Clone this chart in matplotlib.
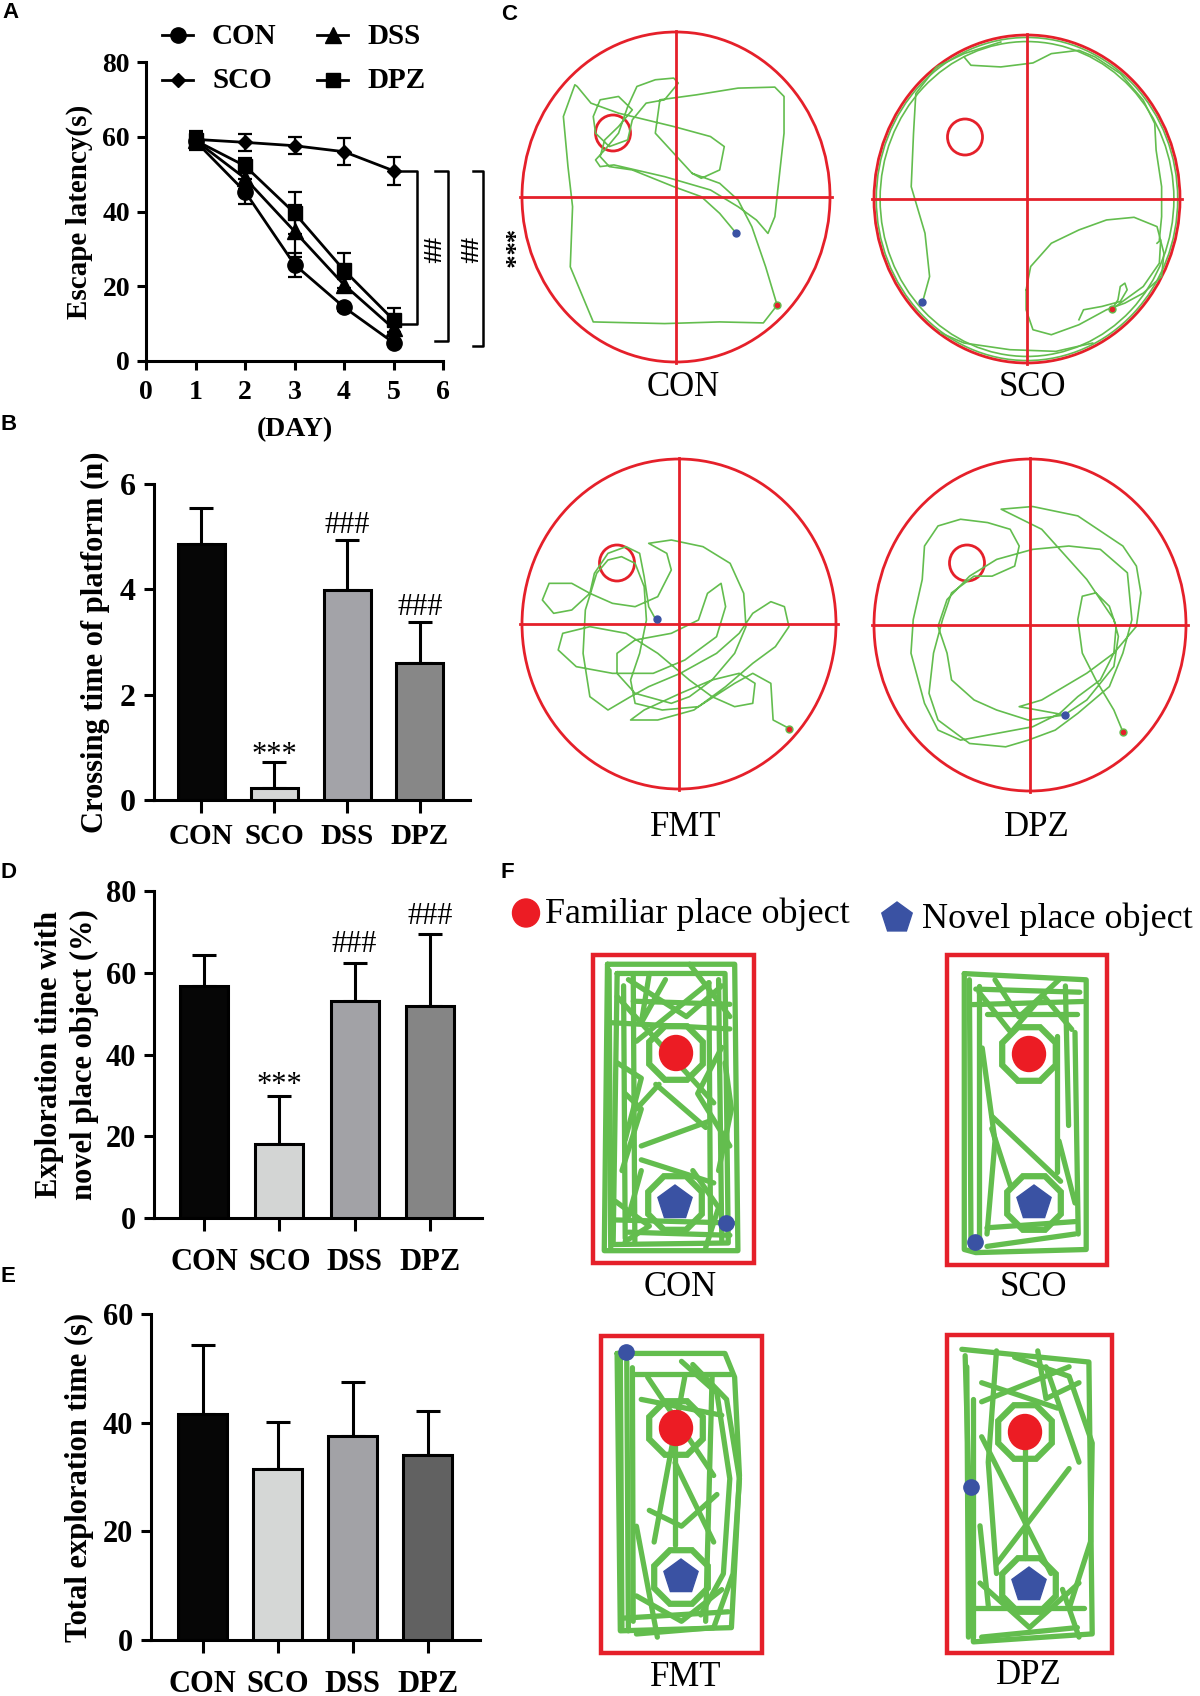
import numpy as np
import matplotlib
matplotlib.use('Agg')
import matplotlib.pyplot as plt
from matplotlib.patches import Ellipse, Rectangle, RegularPolygon

W, H = 1200, 1696
SERIF = ['Liberation Serif', 'DejaVu Serif']
SANS = ['Liberation Sans', 'DejaVu Sans']

# ---------------- data ----------------
days = [1, 2, 3, 4, 5]
latency_con = [58.8, 45.3, 25.8, 14.4, 4.9]
latency_sco = [59.3, 58.5, 57.6, 56.0, 50.9]
latency_dss = [59.0, 48.9, 34.7, 20.4, 8.7]
latency_dpz = [59.0, 52.2, 39.6, 24.3, 11.0]
err_con = [2.0, 3.3, 3.2, 1.0, 1.0]
err_sco = [2.0, 2.2, 2.3, 3.6, 3.8]
err_dss = [2.0, 2.8, 7.0, 1.6, 2.0]
err_dpz = [2.5, 2.0, 5.6, 4.7, 3.2]
day_ticks = [0, 1, 2, 3, 4, 5, 6]
latency_ticks = [0, 20, 40, 60, 80]

groups = ['CON', 'SCO', 'DSS', 'DPZ']
crossing = [4.87, 0.23, 3.98, 2.60]
crossing_err = [0.67, 0.49, 0.95, 0.78]
crossing_ticks = [0, 2, 4, 6]
crossing_marks = ['', '***', '###', '###']

novel_pct = [56.8, 18.1, 53.2, 51.9]
novel_err = [7.5, 11.7, 9.3, 17.6]
novel_ticks = [0, 20, 40, 60, 80]
novel_marks = ['', '***', '###', '###']

total_time = [41.6, 31.5, 37.5, 34.0]
total_err = [12.7, 8.7, 9.9, 8.2]
total_ticks = [0, 20, 40, 60]

colors_b = ['#060606', '#d5d7d6', '#a3a3a8', '#878787']
colors_d = ['#060606', '#d3d5d4', '#a2a2a6', '#858585']
colors_e = ['#060606', '#d5d7d6', '#a2a2a6', '#616161']

# water maze trajectories (points read in zoom-image coordinates of each arena)
maze_con = [(555,698),(520,640),(480,590),(420,560),(330,510),(280,500),(260,470),(270,420),(300,380),
            (330,330),(300,290),(260,300),(245,350),(250,400),(280,440),(320,420),(330,360),(360,310),
            (400,300),(430,250),(420,235),(380,240),(340,260),(320,320),(300,400),(270,450),(250,480),
            (260,500),(290,495),(400,530),(500,570),(560,620),(600,660),(625,700),(640,650),(660,400),
            (660,290),(640,262),(560,265),(470,285),(390,300),(380,400),(420,460),(460,520),(480,535),
            (520,510),(530,440),(500,410),(420,380),(300,340),(240,310),(210,260),(205,255),(180,350),
            (190,500),(200,620),(195,800),(245,965),(400,970),(520,965),(615,968),(645,915),(620,800),
            (590,680),(560,600),(520,550),(460,520)]
maze_sco = [
    [(1050,170),(1065,195),(1130,200),(1200,188),(1240,160),(1300,150),(1335,170),(1390,220),(1440,300),
     (1465,370),(1468,450),(1480,560),(1480,650),(1475,720)],
    [(960,905),(975,830),(965,700),(935,560),(940,400),(945,280),(990,200),(1050,160),(1130,125)],
    [(1185,870),(1195,800),(1240,730),(1300,690),(1360,660),(1420,652),(1470,680),(1485,760),(1480,830),
     (1440,880),(1400,910),(1360,930),(1300,975),(1240,1005),(1200,990),(1185,930),(1185,870)],
    [(1300,960),(1310,930),(1350,920),(1390,905),(1405,870),(1400,850),(1390,860),(1385,900),(1372,928),
     (1400,900),(1440,860),(1475,790),(1478,720),(1470,730)],
    [(1000,1000),(1050,1030),(1150,1050),(1250,1055),(1330,1030)],
]
maze_fmt = [(345,597),(330,560),(320,470),(310,400),(280,380),(240,400),(210,460),(200,520),(160,490),
            (110,490),(95,540),(120,580),(160,570),(200,520),(250,550),(300,560),(350,530),(380,450),
            (370,400),(330,370),(380,360),(450,380),(510,430),(540,520),(545,620),(520,700),(470,780),
            (420,830),(380,850),(300,820),(260,760),(260,700),(300,660),(380,640),(440,600),(460,520),
            (490,490),(500,560),(480,650),(410,720),(340,760),(250,760),(170,740),(130,690),(140,640),
            (200,620),(280,640),(350,700),(420,780),(470,830),(520,860),(560,850),(565,790),(530,760),
            (470,780),(400,820),(320,870),(290,900),(350,900),(430,870),(500,800),(560,730),(610,680),
            (640,620),(630,560),(600,545),(560,580),(530,640),(480,700),(400,760),(330,800),(290,830),
            (240,870),(200,830),(185,700),(190,570),(215,460),(240,420),(270,410),(300,430),(320,500),
            (325,600),(310,700),(290,780),(300,850),(360,870),(440,860),(520,790),(560,760),(600,790),
            (605,900),(640,925)]
maze_dpz = [(1380,935),(1360,870),(1320,780),(1290,700),(1280,600),(1290,530),(1320,520),(1350,560),
            (1365,620),(1360,700),(1330,780),(1280,830),(1240,880),(1180,920),(1100,940),(1020,960),
            (970,930),(940,850),(910,700),(915,600),(935,480),(940,380),(970,320),(1020,300),(1080,310),
            (1130,330),(1150,380),(1140,440),(1090,470),(1050,470),(1000,520),(980,600),(960,700),
            (950,820),(970,900),(1040,970),(1120,980),(1170,960),(1230,930),(1280,880),(1350,800),
            (1380,700),(1400,600),(1390,460),(1330,390),(1260,380),(1180,390),(1100,420),(1040,470),
            (990,540),(970,620),(990,700),(1000,780),(1050,840),(1100,870),(1170,900),(1250,885),
            (1300,840),(1360,740),(1370,650),(1360,600),(1300,480),(1200,330),(1110,270),(1180,262),
            (1280,290),(1380,380),(1410,440),(1420,520),(1410,620),(1360,700),(1300,760),(1250,800),
            (1200,840),(1150,860),(1252,885)]

# object place test tracks (fractions of the arena box)
track_con = [
    [(0.09,0.03),(0.88,0.03),(0.90,0.96),(0.07,0.96),(0.09,0.03)],
    [(0.15,0.06),(0.82,0.06),(0.84,0.935),(0.125,0.94),(0.15,0.06)],
    [(0.10,0.05),(0.11,0.95)], [(0.19,0.10),(0.20,0.92)], [(0.72,0.09),(0.73,0.90)],
    [(0.78,0.08),(0.80,0.93)], [(0.25,0.07),(0.26,0.93)],
    [(0.15,0.135),(0.75,0.48)], [(0.22,0.08),(0.58,0.20),(0.80,0.10)], [(0.72,0.09),(0.27,0.28)],
    [(0.30,0.665),(0.75,0.74)], [(0.30,0.62),(0.72,0.54)], [(0.39,0.42),(0.70,0.56)],
    [(0.27,0.50),(0.41,0.42)], [(0.125,0.86),(0.87,0.87)], [(0.22,0.90),(0.85,0.91)],
    [(0.25,0.15),(0.85,0.16)], [(0.35,0.06),(0.30,0.22),(0.45,0.08)],
    [(0.15,0.35),(0.30,0.40),(0.20,0.60)], [(0.80,0.30),(0.65,0.45),(0.85,0.62)],
    [(0.30,0.70),(0.22,0.85)], [(0.62,0.70),(0.78,0.82),(0.70,0.95)],
    [(0.12,0.22),(0.85,0.24)], [(0.14,0.80),(0.35,0.88),(0.20,0.93)], [(0.60,0.03),(0.85,0.20)],
    [(0.20,0.45),(0.30,0.50),(0.18,0.70)], [(0.82,0.35),(0.86,0.50),(0.78,0.70)],
]
track_sco = [
    [(0.108,0.06),(0.87,0.08),(0.87,0.95),(0.18,0.96),(0.108,0.95),(0.108,0.06)],
    [(0.20,0.10),(0.20,0.93)], [(0.14,0.08),(0.15,0.94)], [(0.18,0.11),(0.83,0.12)],
    [(0.25,0.19),(0.81,0.19)], [(0.20,0.12),(0.40,0.25),(0.60,0.13),(0.78,0.24)],
    [(0.30,0.08),(0.45,0.20),(0.70,0.08)], [(0.28,0.52),(0.71,0.73)], [(0.69,0.26),(0.69,0.70)],
    [(0.80,0.25),(0.82,0.90)], [(0.28,0.56),(0.40,0.75)], [(0.25,0.94),(0.80,0.90)],
    [(0.22,0.30),(0.30,0.60),(0.25,0.90)], [(0.16,0.16),(0.85,0.15)], [(0.74,0.10),(0.76,0.55)],
    [(0.25,0.88),(0.80,0.86)], [(0.70,0.60),(0.80,0.80)],
]
track_fmt = [
    [(0.10,0.055),(0.77,0.055),(0.83,0.13),(0.86,0.44),(0.81,0.92),(0.12,0.93),(0.10,0.055)],
    [(0.12,0.06),(0.13,0.92)], [(0.195,0.10),(0.20,0.90)], [(0.16,0.08),(0.17,0.93)],
    [(0.57,0.09),(0.78,0.20),(0.86,0.45),(0.82,0.75),(0.70,0.92)],
    [(0.50,0.08),(0.72,0.18),(0.80,0.45),(0.76,0.75),(0.62,0.88)],
    [(0.29,0.13),(0.70,0.44)], [(0.46,0.40),(0.70,0.65)], [(0.52,0.13),(0.33,0.65)],
    [(0.69,0.13),(0.65,0.90)], [(0.14,0.89),(0.79,0.87)], [(0.22,0.94),(0.70,0.92)],
    [(0.20,0.12),(0.80,0.12)], [(0.25,0.20),(0.75,0.25)], [(0.30,0.55),(0.50,0.60),(0.72,0.50)],
    [(0.22,0.60),(0.35,0.95)], [(0.46,0.34),(0.46,0.66)], [(0.22,0.82),(0.50,0.90),(0.75,0.80)],
]
track_dpz = [
    [(0.09,0.045),(0.86,0.085),(0.88,0.94),(0.16,0.965),(0.11,0.065)],
    [(0.16,0.20),(0.16,0.95)], [(0.41,0.07),(0.74,0.13),(0.88,0.34),(0.87,0.65),(0.74,0.86)],
    [(0.21,0.21),(0.74,0.10)], [(0.21,0.15),(0.67,0.23)], [(0.21,0.32),(0.63,0.75)],
    [(0.74,0.42),(0.30,0.72)], [(0.16,0.86),(0.83,0.86)], [(0.21,0.95),(0.79,0.92)],
    [(0.30,0.05),(0.25,0.40),(0.30,0.75)], [(0.55,0.05),(0.60,0.20),(0.80,0.15)],
    [(0.20,0.60),(0.25,0.85)], [(0.70,0.80),(0.80,0.95)], [(0.47,0.36),(0.47,0.70)],
    [(0.12,0.10),(0.13,0.95)], [(0.20,0.78),(0.50,0.92),(0.80,0.78)], [(0.60,0.10),(0.80,0.40)],
]

# ---------------- figure ----------------
fig = plt.figure(figsize=(W / 100, H / 100), dpi=100)
fig.patch.set_facecolor('white')


def px_rect(l, t, r, b):
    return [l / W, 1 - b / H, (r - l) / W, (b - t) / H]


P = fig.add_axes([0, 0, 1, 1], zorder=0)
P.set_xlim(0, W)
P.set_ylim(H, 0)
P.axis('off')

RED = '#e5202a'
GREEN = '#63bd4e'
BLUE = '#3a52a3'


def style_axes(ax, tick_size):
    ax.set_facecolor('none')
    for s in ['top', 'right']:
        ax.spines[s].set_visible(False)
    for s in ['left', 'bottom']:
        ax.spines[s].set_linewidth(2.2)
    ax.tick_params(direction='out', width=2.2, length=7, pad=6)
    for lab in ax.get_xticklabels() + ax.get_yticklabels():
        lab.set_fontfamily(SERIF)
        lab.set_fontweight('bold')
        lab.set_fontsize(tick_size)


# ---- Panel A ----
axA = fig.add_axes(px_rect(146, 62, 443, 361), zorder=1)
series = [(latency_con, err_con, 'o', 11), (latency_sco, err_sco, 'D', 7.5),
          (latency_dss, err_dss, '^', 11), (latency_dpz, err_dpz, 's', 10)]
for vals, errs, mk, ms in series:
    axA.errorbar(days, vals, yerr=errs, color='black', marker=mk, ms=ms, lw=2.0,
                 elinewidth=1.6, capsize=5, capthick=1.6, clip_on=False)
axA.set_xlim(0, 6)
axA.set_ylim(0, 80)
axA.set_xticks(day_ticks)
axA.set_yticks(latency_ticks)
style_axes(axA, 20)
axA.tick_params(length=6.5, pad=5)
axA.tick_params(axis='x', pad=7)
axA.set_xlabel('(DAY)', fontfamily=SERIF, fontweight='bold', fontsize=20, labelpad=9)
axA.set_ylabel('Escape latency(s)', fontfamily=SERIF, fontweight='bold', fontsize=21, labelpad=7)

# significance brackets (right of day 5)
for xl, xr, ylo in [(5.13, 5.475, latency_dpz[4] - 1.1), (5.84, 6.1, latency_con[4] + 0.5),
                    (6.6, 6.81, latency_con[4] - 0.9)]:
    yhi = latency_sco[4]
    axA.plot([xl, xr, xr, xl], [yhi, yhi, ylo, ylo], color='black', lw=1.8, clip_on=False)
for xt, s, fs in [(5.72, '##', 19), (6.46, '##', 19), (7.22, '***', 19)]:
    axA.text(xt, 29.7, s, rotation=270, ha='center', va='center', fontsize=fs,
             fontfamily=SERIF, fontweight='bold', clip_on=False)

# legend of A (drawn manually)
leg = [('CON', 'o', 11, 162, 35), ('SCO', 'D', 7.5, 162, 80),
       ('DSS', '^', 11, 317, 35), ('DPZ', 's', 10, 317, 80)]
for name, mk, ms, x0, y0 in leg:
    P.plot([x0, x0 + 31], [y0, y0], color='black', lw=2.0)
    P.plot([x0 + 15.5], [y0], marker=mk, ms=ms, color='black')
    P.text(x0 + 50, y0 + 1, name, ha='left', va='center', fontsize=21,
           fontfamily=SERIF, fontweight='bold')


# ---- bar panels ----
def bar_panel(l, t, r, b, c0, step, bw, vals, errs, colors, ticks, ylim, tick_size,
              xlab_size, xpad, marks=None, mark_y=None):
    ax = fig.add_axes(px_rect(l, t, r, b), zorder=1)
    x = np.arange(len(vals))
    ax.bar(x, vals, width=bw / step, color=colors, edgecolor='black', linewidth=2.2, zorder=3)
    ax.errorbar(x, vals, yerr=[np.zeros(len(vals)), errs], fmt='none', ecolor='black',
                elinewidth=2.2, capsize=8.3, capthick=2.2, zorder=2)
    ax.set_xlim((l - c0) / step, (r - c0) / step)
    ax.set_ylim(*ylim)
    ax.set_yticks(ticks)
    ax.set_xticks(x)
    ax.set_xticklabels(groups)
    style_axes(ax, tick_size)
    ax.tick_params(axis='x', labelsize=xlab_size, pad=xpad, length=9.5)
    ax.tick_params(axis='y', length=7)
    if marks is not None:
        for i, (m, my) in enumerate(zip(marks, mark_y)):
            if m:
                ax.text(i, my, m, ha='center', va='center', fontsize=22, fontfamily=SERIF)
    return ax


axB = bar_panel(154, 484, 470, 800, 201, 73, 47, crossing, crossing_err, colors_b,
                crossing_ticks, (0, 6), 23, 21, 7,
                crossing_marks, [0.0, 0.85, 5.22, 3.66])
axB.set_ylabel('Crossing time of platform (n)', fontfamily=SERIF, fontweight='bold', fontsize=22,
               labelpad=7)

axD = bar_panel(154, 891, 482, 1218, 204, 75.3, 48, novel_pct, novel_err, colors_d,
                novel_ticks, (0, 80), 22, 22, 12,
                novel_marks, [0.0, 32.5, 67.0, 73.8])
axD.set_ylabel('Exploration time with\nnovel place object (%)', fontfamily=SERIF,
               fontweight='bold', fontsize=22, labelpad=5, linespacing=1.25)

axE = bar_panel(151, 1314, 480, 1640, 202.5, 75, 49, total_time, total_err, colors_e,
                total_ticks, (0, 60), 22, 22, 12)
axE.set_ylabel('Total exploration time (s)', fontfamily=SERIF, fontweight='bold', fontsize=22,
               labelpad=6)

# ---- Panel C: water maze ----
arenas = [
    ('CON', (676, 197), (154, 165), (425, 591, 335, 494), (613, 133), (736, 233), (777, 305), (683, 391)),
    ('SCO', (1027, 199), (153, 164), (1187, 597, 333, 493), (965, 137), (922, 302), (1112, 309), (1032, 391)),
    ('FMT', (679, 624), (157, 165), (397, 612, 347, 495), (617, 563), (657, 619), (789, 729), (686, 830)),
    ('DPZ', (1030, 625), (156, 166), (1174, 616, 346, 496), (967, 563), (1065, 715), (1123, 732), (1037, 830)),
]
paths = {'CON': [maze_con], 'SCO': maze_sco, 'FMT': [maze_fmt], 'DPZ': [maze_dpz]}


def to_px(pts, frame, center, half):
    zcx, zcy, zhx, zhy = frame
    xs = [center[0] + (zx - zcx) / zhx * half[0] for zx, zy in pts]
    ys = [center[1] + (zy - zcy) / zhy * half[1] for zx, zy in pts]
    return xs, ys


for name, c, hf, frame, plat, bdot, rdot, lab in arenas:
    if name == 'SCO':
        for sc in (0.985, 0.96):
            P.add_patch(Ellipse(c, 2 * hf[0] * sc, 2 * hf[1] * sc, fill=False, ec=GREEN, lw=1.2))
    for pts in paths[name]:
        xs, ys = to_px(pts, frame, c, hf)
        P.plot(xs, ys, color=GREEN, lw=1.2, solid_joinstyle='round')
    P.add_patch(Ellipse(c, 2 * hf[0], 2 * hf[1], fill=False, ec=RED, lw=2.0))
    P.plot([c[0] - hf[0] - 2, c[0] + hf[0] + 2], [c[1], c[1]], color=RED, lw=2.0)
    P.plot([c[0], c[0]], [c[1] - hf[1] - 1, c[1] + hf[1] + 1], color=RED, lw=2.0)
    P.add_patch(Ellipse(plat, 35, 36, fill=False, ec=RED, lw=2.0))
    P.plot([bdot[0]], [bdot[1]], 'o', ms=5, color=BLUE)
    P.plot([rdot[0]], [rdot[1]], 'o', ms=5, mfc=RED, mec=GREEN, mew=1)
    P.text(lab[0], lab[1] - 3, name, ha='center', va='center', fontsize=25, fontfamily=SERIF)

# ---- Panel F: object place test ----
boxes = [
    ('CON', (593, 955, 754, 1263), track_con, (676, 1053), (675, 1203), (726, 1223), (680, 1291)),
    ('SCO', (947, 955, 1107, 1265), track_sco, (1029, 1054), (1034, 1203), (975, 1242), (1033, 1291)),
    ('FMT', (601, 1336, 762, 1653), track_fmt, (676, 1428), (681, 1577), (626, 1352), (686, 1680)),
    ('DPZ', (947, 1335, 1112, 1653), track_dpz, (1025, 1432), (1029, 1585), (971, 1487), (1029, 1678)),
]
for name, (l, t, r, b), tracks, red_c, pent_c, bdot, lab in boxes:
    for line in tracks:
        xs = [l + u * (r - l) for u, v in line]
        ys = [t + v * (b - t) for u, v in line]
        P.plot(xs, ys, color=GREEN, lw=3.8, solid_capstyle='round', solid_joinstyle='round')
    for cc in (red_c, pent_c):
        P.add_patch(RegularPolygon(cc, 8, radius=29, orientation=np.pi / 8, fill=False,
                                   ec=GREEN, lw=4.5))
    P.add_patch(Rectangle((l, t), r - l, b - t, fill=False, ec=RED, lw=3.2))
    P.add_patch(Ellipse(red_c, 33, 35, color='#ec1c24', zorder=5))
    P.add_patch(RegularPolygon(pent_c, 5, radius=18, orientation=np.pi, color=BLUE, zorder=5))
    P.plot([bdot[0]], [bdot[1]], 'o', ms=11, color=BLUE, zorder=6)
    P.text(lab[0], lab[1] - 3, name, ha='center', va='center', fontsize=25, fontfamily=SERIF)

# legend of F
P.add_patch(Ellipse((526, 913), 27, 28, color='#ec1c24'))
P.text(545, 914, 'Familiar place object', ha='left', va='center', fontsize=26, fontfamily=SERIF)
P.add_patch(RegularPolygon((897, 918), 5, radius=16, orientation=np.pi, color=BLUE))
P.text(922, 919, 'Novel place object', ha='left', va='center', fontsize=26, fontfamily=SERIF)

# panel letters
for letter, x, y in [('A', 2, 13), ('B', 1, 425), ('C', 501, 14), ('D', 1, 873), ('E', 1, 1277),
                     ('F', 501, 872)]:
    P.text(x, y, letter, ha='left', va='center', fontsize=16, fontweight='bold', fontfamily=SANS)

fig.savefig('out.png', dpi=100)
